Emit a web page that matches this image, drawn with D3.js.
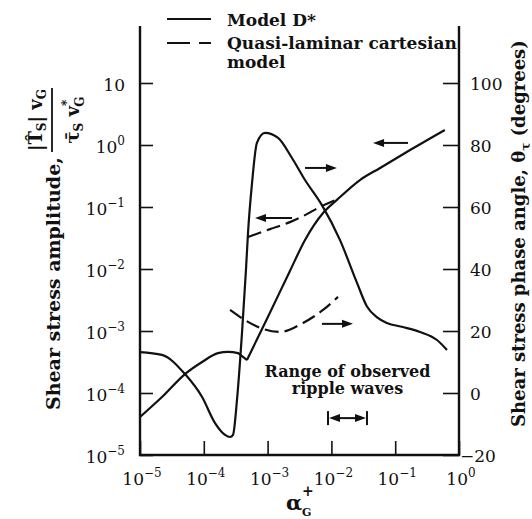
<!DOCTYPE html>
<html>
<head>
<meta charset="utf-8">
<script src="https://cdn.jsdelivr.net/npm/d3@7"></script>
<style>
body { margin: 0; background: #fff; }
svg text { font-family: "DejaVu Serif", serif; fill: #111; }
</style>
</head>
<body>
<svg id="chart" width="532" height="519"></svg>
<script>
/* TICKS */
var ampTicks = [1e-5, 1e-4, 1e-3, 1e-2, 1e-1, 1, 10];
var alphaTicks = [1e-5, 1e-4, 1e-3, 1e-2, 1e-1, 1];
var phaseTicks = [-20, 0, 20, 40, 60, 80, 100];

/* MODEL D* - amplitude (left axis) */
var alphaAmpD = [1e-5, 2.21e-5, 5.07e-5, 9.4e-5, 1.67e-4, 2.4e-4, 3.43e-4, 4.11e-4, 4.75e-4,
                 1.01e-3, 2.24e-3, 3.86e-3, 7.4e-3, 1.22e-2, 2.8e-2, 5.8e-2, 0.171, 0.60];
var ampD = [4.1e-5, 8.6e-5, 2.02e-4, 3.16e-4, 4.4e-4, 4.6e-4, 4.4e-4, 3.81e-4, 3.4e-4,
            1.68e-3, 9.3e-3, 2.94e-2, 8.0e-2, 0.13, 0.272, 0.426, 0.83, 1.75];

/* MODEL D* - phase angle (right axis) */
var alphaPhaseD = [1e-5, 2.21e-5, 5.07e-5, 9.4e-5, 1.5e-4, 2.15e-4, 2.58e-4, 2.87e-4, 3.31e-4,
                   3.97e-4, 4.58e-4, 4.93e-4, 5.7e-4, 6.8e-4, 9.1e-4, 1.46e-3, 2.41e-3, 3.86e-3,
                   7.1e-3, 1.36e-2, 2.52e-2, 3.61e-2, 5.2e-2, 7.4e-2, 0.132, 0.245, 0.452, 0.648];
var phaseD = [13.2, 12.3, 6.1, -1.3, -9.7, -13.5, -14.2, -13.5, -2.3,
              19.4, 39.7, 51.6, 67.7, 80.7, 83.9, 82.3, 75.8, 68.7,
              60.6, 49.4, 35.5, 27.9, 24.4, 22.6, 21.3, 19.7, 17.1, 13.9];

/* QUASI-LAMINAR CARTESIAN MODEL */
var alphaAmpQL = [4.93e-4, 1.09e-3, 2.24e-3, 3.86e-3, 6.6e-3, 1.27e-2];
var ampQL = [3.28e-2, 4.4e-2, 5.7e-2, 7.4e-2, 0.1, 0.135];
var alphaPhaseQL = [2.58e-4, 4.43e-4, 7.1e-4, 1.56e-3, 3.59e-3, 7.4e-3, 1.27e-2];
var phaseQL = [26.8, 23.5, 21.3, 19.7, 22.6, 26.8, 31.0];

/* RANGE OF OBSERVED RIPPLE WAVES */
var rippleRange = [8.85e-3, 3.61e-2];

function zip(a, b) { return a.map(function(d, i) { return [d, b[i]]; }); }

var svg = d3.select("#chart");

var x = d3.scaleLog().domain([1e-5, 1]).range([140, 459]);
var yL = d3.scaleLog().domain([1e-5, 10]).range([455, 83]);
var yR = d3.scaleLinear().domain([-20, 100]).range([455, 83]);

var ink = "#111";

// frame: left, right, bottom (no top)
svg.append("path")
  .attr("d", "M140,26V455H459V26")
  .attr("fill", "none").attr("stroke", ink).attr("stroke-width", 2.4);

// ticks pointing inward
svg.append("g").attr("transform", "translate(140,0)")
  .call(d3.axisLeft(yL).tickValues(ampTicks).tickSize(-13).tickFormat(""))
  .call(function(g) { g.select(".domain").remove(); g.selectAll("line").attr("stroke", ink).attr("stroke-width", 1.6); });
svg.append("g").attr("transform", "translate(459,0)")
  .call(d3.axisRight(yR).tickValues(phaseTicks).tickSize(-16).tickFormat(""))
  .call(function(g) { g.select(".domain").remove(); g.selectAll("line").attr("stroke", ink).attr("stroke-width", 1.6); });
svg.append("g").attr("transform", "translate(0,455)")
  .call(d3.axisBottom(x).tickValues(alphaTicks).tickSize(-14).tickFormat(""))
  .call(function(g) { g.select(".domain").remove(); g.selectAll("line").attr("stroke", ink).attr("stroke-width", 1.6); });

// power-of-ten label
function pow10(sel, noExpFor) {
  sel.each(function(d) {
    var t = d3.select(this);
    var e = Math.round(Math.log10(d));
    t.append("tspan").text("10");
    if (d !== noExpFor) {
      t.append("tspan").attr("font-size", 12).attr("dy", -8)
        .text(e < 0 ? "\u2212" + (-e) : e);
    }
  });
}

svg.append("g").selectAll("text").data(ampTicks).join("text")
  .attr("x", 125).attr("y", function(d) { return yL(d) + 8; })
  .attr("text-anchor", "end").attr("font-size", 17)
  .call(pow10, 10);

svg.append("g").selectAll("text").data(alphaTicks).join("text")
  .attr("x", function(d) { return x(d) + 2; }).attr("y", 485)
  .attr("text-anchor", "middle").attr("font-size", 17)
  .call(pow10, null);

svg.append("g").selectAll("text").data(phaseTicks).join("text")
  .attr("x", function(d) { return d < 0 ? 460 : 470; })
  .attr("y", function(d) { return yR(d) + 7; })
  .attr("font-size", 17)
  .text(function(d) { return d < 0 ? "\u2212" + (-d) : d; });

// curves
var lineAmp = d3.line().x(function(d) { return x(d[0]); }).y(function(d) { return yL(d[1]); }).curve(d3.curveMonotoneX);
var linePh = d3.line().x(function(d) { return x(d[0]); }).y(function(d) { return yR(d[1]); }).curve(d3.curveMonotoneX);

var ampPts = zip(alphaAmpD, ampD);
var kink = 8; // sharp corner where the amplitude turns upward
[ampPts.slice(0, kink + 1), ampPts.slice(kink)].forEach(function(seg) {
  svg.append("path").attr("d", lineAmp(seg))
    .attr("fill", "none").attr("stroke", ink).attr("stroke-width", 2.2);
});
svg.append("path").attr("d", linePh(zip(alphaPhaseD, phaseD)))
  .attr("fill", "none").attr("stroke", ink).attr("stroke-width", 2.2);
svg.append("path").attr("d", lineAmp(zip(alphaAmpQL, ampQL)))
  .attr("fill", "none").attr("stroke", ink).attr("stroke-width", 2.2).attr("stroke-dasharray", "14,6");
svg.append("path").attr("d", linePh(zip(alphaPhaseQL, phaseQL)))
  .attr("fill", "none").attr("stroke", ink).attr("stroke-width", 2.2).attr("stroke-dasharray", "14,6");

// arrows telling which axis each curve belongs to
function arrow(x1, y1, x2, y2) {
  var dir = x2 > x1 ? 1 : -1;
  svg.append("line").attr("x1", x1).attr("y1", y1).attr("x2", x2 - dir * 6).attr("y2", y2)
    .attr("stroke", ink).attr("stroke-width", 2);
  svg.append("path")
    .attr("d", "M" + x2 + "," + y2 + "L" + (x2 - dir * 11) + "," + (y2 - 4) + "L" + (x2 - dir * 11) + "," + (y2 + 4) + "Z")
    .attr("fill", ink);
}
arrow(x(0.159), yL(1.08), x(0.045), yL(1.08));
arrow(x(3.86e-3), yR(72.6), x(1.22e-2), yR(72.6));
arrow(x(2.41e-3), yL(0.0665), x(6.35e-4), yL(0.0665));
arrow(x(7.1e-3), yR(22.3), x(2.18e-2), yR(22.3));

// ripple range bracket
var ra = x(rippleRange[0]), rb = x(rippleRange[1]), ry = yR(-8.1);
svg.append("line").attr("x1", ra + 6).attr("x2", rb - 6).attr("y1", ry).attr("y2", ry)
  .attr("stroke", ink).attr("stroke-width", 2);
[ra, rb].forEach(function(px, i) {
  var dir = i === 0 ? -1 : 1;
  svg.append("line").attr("x1", px).attr("x2", px).attr("y1", ry - 7).attr("y2", ry + 7)
    .attr("stroke", ink).attr("stroke-width", 2);
  svg.append("path")
    .attr("d", "M" + (px - dir) + "," + ry + "L" + (px - dir * 12) + "," + (ry - 4) + "L" + (px - dir * 12) + "," + (ry + 4) + "Z")
    .attr("fill", ink);
});
var rt = svg.append("text").attr("text-anchor", "middle").attr("font-size", 16).attr("font-weight", "bold");
rt.append("tspan").attr("x", (ra + rb) / 2).attr("y", yR(6.8) + 5).text("Range of observed");
rt.append("tspan").attr("x", (ra + rb) / 2).attr("y", yR(0) + 1).text("ripple waves");

// legend
svg.append("line").attr("x1", 167).attr("x2", 211).attr("y1", 19).attr("y2", 19)
  .attr("stroke", ink).attr("stroke-width", 2.2);
svg.append("line").attr("x1", 167).attr("x2", 211).attr("y1", 43).attr("y2", 43)
  .attr("stroke", ink).attr("stroke-width", 2.2).attr("stroke-dasharray", "23,9");
var lg = svg.append("text").attr("font-size", 17).attr("font-weight", "bold");
lg.append("tspan").attr("x", 227).attr("y", 26).text("Model D*");
lg.append("tspan").attr("x", 227).attr("y", 49).text("Quasi-laminar cartesian");
lg.append("tspan").attr("x", 227).attr("y", 68).text("model");

// left title
var lt = svg.append("g").attr("transform", "translate(60,410) rotate(-90)");
lt.append("text").attr("font-size", 19).attr("font-weight", "bold").text("Shear stress amplitude,");
lt.append("line").attr("x1", 258).attr("x2", 322).attr("y1", -8).attr("y2", -8)
  .attr("stroke", ink).attr("stroke-width", 1.8);
var num = lt.append("text").attr("x", 290).attr("y", -18).attr("text-anchor", "middle")
  .attr("font-size", 18).attr("font-weight", "bold");
num.append("tspan").text("|T\u0302");
num.append("tspan").attr("font-size", 12).attr("dy", 4).text("S");
num.append("tspan").attr("dy", -4).text("| v");
num.append("tspan").attr("font-size", 12).attr("dy", 4).text("G");
var den = lt.append("text").attr("x", 290).attr("y", 19).attr("text-anchor", "middle")
  .attr("font-size", 18).attr("font-weight", "bold");
den.append("tspan").text("\u03C4\u0304");
den.append("tspan").attr("font-size", 12).attr("dy", 4).text("S");
den.append("tspan").attr("dy", -4).text(" v");
den.append("tspan").attr("font-size", 12).attr("dy", -8).text("*");
den.append("tspan").attr("font-size", 12).attr("dx", -7).attr("dy", 13).text("G");

// right title
var rtl = svg.append("text").attr("transform", "translate(525,427) rotate(-90)")
  .attr("font-size", 18).attr("font-weight", "bold");
rtl.append("tspan").text("Shear stress phase angle, \u03B8");
rtl.append("tspan").attr("font-size", 12).attr("dy", 5).text("\u03C4");
rtl.append("tspan").attr("dy", -5).text(" (degrees)");

// x title
svg.append("text").attr("x", 286).attr("y", 510).attr("font-size", 21).attr("font-weight", "bold").text("\u03B1");
svg.append("text").attr("x", 302).attr("y", 496).attr("font-size", 14).attr("font-weight", "bold").text("+");
svg.append("text").attr("x", 302).attr("y", 516).attr("font-size", 11).attr("font-weight", "bold").text("G");
</script>
</body>
</html>
